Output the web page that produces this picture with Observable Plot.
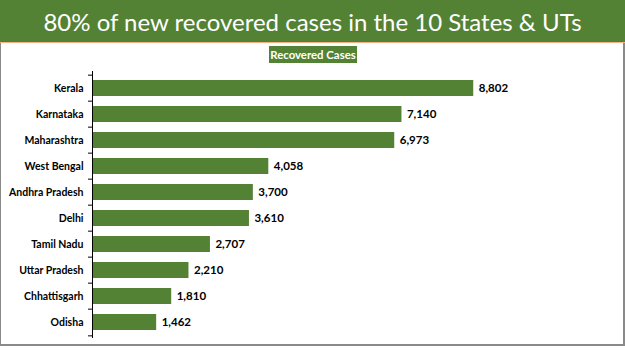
<!DOCTYPE html>
<html><head><meta charset="utf-8">
<script src="https://cdn.jsdelivr.net/npm/d3@7"></script>
<script src="https://cdn.jsdelivr.net/npm/@observablehq/plot@0.6"></script>
<style>
body{margin:0;background:#fff;}
#wrap{position:relative;width:625px;height:351px;overflow:hidden;font-family:Lato,"Open Sans",sans-serif;background:#fff;}
#hdr{position:absolute;left:0;top:0;width:625px;height:42px;background:#548235;color:#fff;font-size:24px;text-align:center;line-height:44px;white-space:nowrap;}
#line{position:absolute;left:0;top:42px;width:625px;height:1px;background:#f4b183;}
#frame{position:absolute;left:0;top:43px;width:622px;height:301px;border-left:1px solid #8a8a8a;border-right:2px solid #8a8a8a;border-bottom:2px solid #8a8a8a;}
#legend{position:absolute;left:269px;top:46px;width:88px;height:17px;background:#548235;color:#fff;font-size:11.4px;font-weight:bold;text-align:center;line-height:17px;white-space:nowrap;}
#chart{position:absolute;left:0;top:64px;}
#chart svg text{font-weight:bold;}
</style></head>
<body>
<div id="wrap">
  <div id="hdr">80% of new recovered cases in the 10 States &amp; UTs</div>
  <div id="line"></div>
  <div id="frame"></div>
  <div id="legend">Recovered Cases</div>
  <div id="chart"></div>
</div>
<script>
const states = ["Kerala","Karnataka","Maharashtra","West Bengal","Andhra Pradesh","Delhi","Tamil Nadu","Uttar Pradesh","Chhattisgarh","Odisha"];
const recovered = [8802,7140,6973,4058,3700,3610,2707,2210,1810,1462];
const data = states.map((s,i)=>({state:s, value:recovered[i]}));

const H = 282, MT = 7, MB = 8;
const step = (H - MT - MB) / states.length;
const fmt = d3.format(",");

const plot = Plot.plot({
  width: 625,
  height: H,
  marginLeft: 93,
  marginRight: 100,
  marginTop: MT,
  marginBottom: MB,
  style: {fontFamily: "Lato, 'Open Sans', sans-serif", fontSize: "10.5px", color: "#000", background: "transparent"},
  x: {domain: [0, 10000], axis: null},
  y: {domain: states, padding: 0.4, paddingOuter: 0.2, label: null},
  marks: [
    Plot.barX(data, {x: "value", y: "state", fill: "#548235"}),
    Plot.text(data, {x: "value", y: "state", text: d => fmt(d.value), textAnchor: "start", dx: 5, fontSize: 11.5, fontWeight: "bold", fill: "#000"}),
    Plot.axisY({tickSize: 0, tickPadding: 10, fontSize: 10.5, fill: "#000"}),
    Plot.ruleX([0], {stroke: "#000", dx: -1}),
    Plot.ruleY(states, {y: d => d, x1: 0, x2: 0, insetLeft: -5, insetRight: 1, dy: -step/2, stroke: "#000"}),
    Plot.ruleY([states[states.length-1]], {y: d => d, x1: 0, x2: 0, insetLeft: -5, insetRight: 1, dy: step/2, stroke: "#000"})
  ]
});
document.getElementById("chart").appendChild(plot);
</script>
</body></html>
